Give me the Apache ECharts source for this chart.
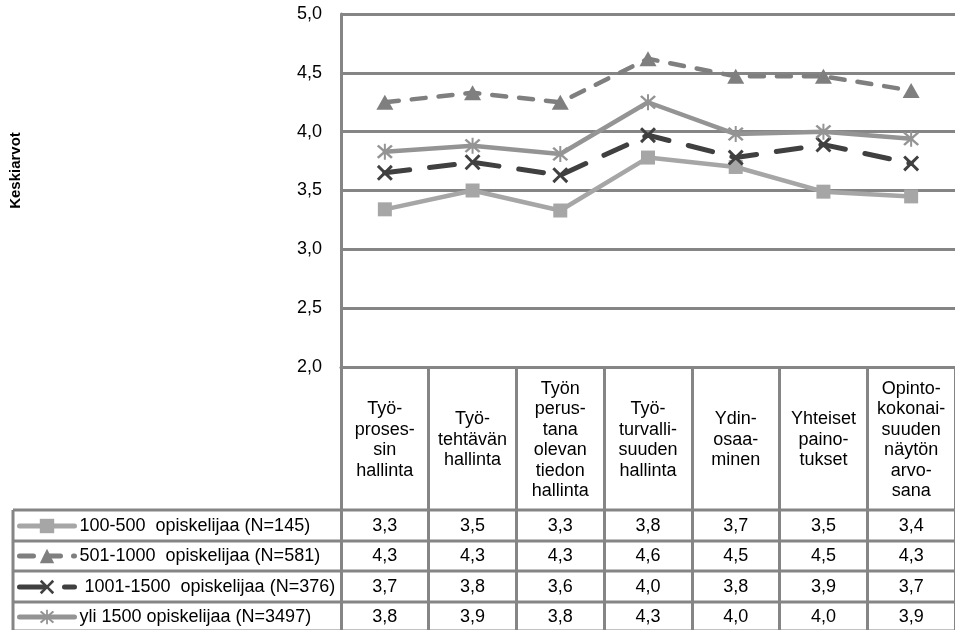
<!DOCTYPE html>
<html>
<head>
<meta charset="utf-8">
<script src="https://cdn.jsdelivr.net/npm/echarts@6/dist/echarts.min.js"></script>
<style>
html,body{margin:0;padding:0;background:#fff;}
#chart{width:955px;height:630px;}
</style>
</head>
<body>
<div id="chart"></div>
<script>
// ---- data ----
const categories = [
  'Työ-\nproses-\nsin\nhallinta',
  'Työ-\ntehtävän\nhallinta',
  'Työn\nperus-\ntana\nolevan\ntiedon\nhallinta',
  'Työ-\nturvalli-\nsuuden\nhallinta',
  'Ydin-\nosaa-\nminen',
  'Yhteiset\npaino-\ntukset',
  'Opinto-\nkokonai-\nsuuden\nnäytön\narvo-\nsana'
];
const seriesNames = [
  '100-500  opiskelijaa (N=145)',
  '501-1000  opiskelijaa (N=581)',
  ' 1001-1500  opiskelijaa (N=376)',
  'yli 1500 opiskelijaa (N=3497)'
];
// plotted means
const values100 = [3.34, 3.50, 3.33, 3.78, 3.70, 3.49, 3.45];
const values501 = [4.25, 4.33, 4.25, 4.62, 4.47, 4.47, 4.35];
const values1001 = [3.65, 3.74, 3.63, 3.97, 3.78, 3.89, 3.73];
const values1500 = [3.83, 3.88, 3.81, 4.25, 3.98, 4.00, 3.94];
// values printed in the data table
const table100 = [3.3, 3.5, 3.3, 3.8, 3.7, 3.5, 3.4];
const table501 = [4.3, 4.3, 4.3, 4.6, 4.5, 4.5, 4.3];
const table1001 = [3.7, 3.8, 3.6, 4.0, 3.8, 3.9, 3.7];
const table1500 = [3.8, 3.9, 3.8, 4.3, 4.0, 4.0, 3.9];
const yTicks = [2.0, 2.5, 3.0, 3.5, 4.0, 4.5, 5.0];
const yAxisTitle = 'Keskiarvot';

// ---- styles ----
const FONT = '"Liberation Sans", Arial, sans-serif';
const FS = 18;
const GRID_COLOR = '#858585';
const fmt = v => v.toFixed(1).replace('.', ',');
const xPath = 'path://M0,1.3L1.3,0L5,3.7L8.7,0L10,1.3L6.3,5L10,8.7L8.7,10L5,6.3L1.3,10L0,8.7L3.7,5Z';
const starPath = 'path://M0.6,1.6L1.6,0.6L9.4,8.4L8.4,9.4Z M8.4,0.6L9.4,1.6L1.6,9.4L0.6,8.4Z M4.45,0L5.55,0L5.55,10L4.45,10Z';

const tables = [table100, table501, table1001, table1500];
const rowCenters = [526, 556, 587, 617];
const AXIS_Y = 367;

const chart = echarts.init(document.getElementById('chart'), null, {renderer: 'canvas'});

const xAxes = [{
  type: 'category',
  data: categories,
  position: 'bottom',
  boundaryGap: true,
  axisLine: {show: true, lineStyle: {color: GRID_COLOR, width: 3}},
  axisTick: {show: true, interval: 0, length: 265, inside: false, lineStyle: {color: GRID_COLOR, width: 3}},
  axisLabel: {
    interval: 0, margin: 73, verticalAlign: 'middle', align: 'center',
    fontFamily: FONT, fontSize: FS, color: '#000', lineHeight: 20.5
  },
  splitLine: {show: false}
}];
tables.forEach((t, k) => {
  xAxes.push({
    type: 'category',
    data: categories,
    position: 'bottom',
    offset: 0,
    axisLine: {show: false},
    axisTick: {show: false},
    splitLine: {show: false},
    axisLabel: {
      interval: 0, margin: rowCenters[k] - AXIS_Y, verticalAlign: 'middle', align: 'center',
      fontFamily: FONT, fontSize: FS, color: '#000',
      formatter: (v, i) => fmt(t[i])
    }
  });
});

const hLines = [510, 541, 571, 602, 631].map(y => ({
  type: 'line', shape: {x1: 13, y1: y, x2: 955, y2: y},
  style: {stroke: GRID_COLOR, lineWidth: 3}, silent: true
}));

const legends = seriesNames.map((n, i) => ({
  orient: 'horizontal',
  left: 17, top: rowCenters[i] - 10, padding: 0,
  itemWidth: 55, itemHeight: 18, itemGap: 0,
  lineStyle: {width: 5},
  textStyle: {fontFamily: FONT, fontSize: FS, color: '#000', lineHeight: 20},
  data: [n]
}));

const option = {
  animation: false,
  backgroundColor: '#fff',
  textStyle: {fontFamily: FONT},
  grid: {left: 341, right: 0, top: 14, bottom: 263, containLabel: false},
  legend: legends,
  xAxis: xAxes,
  yAxis: {
    type: 'value', min: 2, max: 5, interval: 0.5,
    name: yAxisTitle, nameLocation: 'middle', nameRotate: 90, nameGap: 318,
    nameTextStyle: {fontFamily: FONT, fontSize: 15, fontWeight: 'bold', color: '#000', padding: [0, 0, 0, 40]},
    axisLine: {show: true, lineStyle: {color: GRID_COLOR, width: 3}},
    axisTick: {show: false},
    axisLabel: {margin: 19, fontFamily: FONT, fontSize: FS, color: '#000', formatter: v => fmt(v)},
    splitLine: {show: true, lineStyle: {color: GRID_COLOR, width: 3}}
  },
  graphic: hLines.concat([{
    type: 'line', shape: {x1: 13, y1: 510, x2: 13, y2: 632},
    style: {stroke: GRID_COLOR, lineWidth: 3}, silent: true
  }]),
  series: [
    {
      name: seriesNames[0], type: 'line', data: values100,
      symbol: 'rect', symbolSize: 14,
      itemStyle: {color: '#a6a6a6'},
      lineStyle: {color: '#a6a6a6', width: 4.5, cap: 'round'}
    },
    {
      name: seriesNames[1], type: 'line', data: values501,
      symbol: 'triangle', symbolSize: [17, 15],
      itemStyle: {color: '#7f7f7f'},
      lineStyle: {color: '#7f7f7f', width: 4.5, type: [14, 13], cap: 'round'}
    },
    {
      name: seriesNames[2], type: 'line', data: values1001,
      symbol: xPath, symbolSize: 16,
      itemStyle: {color: '#404040'},
      lineStyle: {color: '#404040', width: 5, type: [25, 20], cap: 'round'}
    },
    {
      name: seriesNames[3], type: 'line', data: values1500,
      symbol: starPath, symbolSize: 16,
      itemStyle: {color: '#949494'},
      lineStyle: {color: '#949494', width: 4.5, cap: 'round'}
    }
  ]
};
chart.setOption(option);
</script>
</body>
</html>
